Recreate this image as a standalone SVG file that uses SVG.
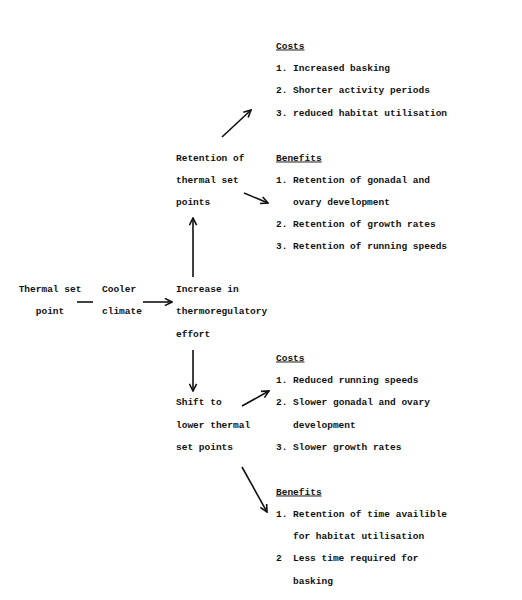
<svg xmlns="http://www.w3.org/2000/svg" width="522" height="600" viewBox="0 0 522 600">
<defs>
<style>
text{font-family:"Liberation Mono","DejaVu Sans Mono",monospace;font-size:9.5px;font-weight:bold;fill:#111}
.c{text-anchor:middle}
.u{text-decoration:underline}
.ln{stroke:#111;stroke-width:1.6;fill:none}
</style>
<marker id="ah" viewBox="0 0 10 10" refX="9" refY="5" markerWidth="9" markerHeight="9" markerUnits="userSpaceOnUse" orient="auto">
<polyline points="1,1 9,5 1,9" fill="none" stroke="#111" stroke-width="1.8"/>
</marker>
</defs>
<rect width="522" height="600" fill="#fff"/>
<g id="connectors">
<line class="ln" x1="77" y1="302" x2="93" y2="302"/>
<line class="ln" x1="143" y1="302" x2="172" y2="302" marker-end="url(#ah)"/>
<line class="ln" x1="193" y1="277" x2="193" y2="218" marker-end="url(#ah)"/>
<line class="ln" x1="222" y1="137" x2="251" y2="110" marker-end="url(#ah)"/>
<line class="ln" x1="244" y1="193" x2="268" y2="203" marker-end="url(#ah)"/>
<line class="ln" x1="193" y1="350" x2="193" y2="391" marker-end="url(#ah)"/>
<line class="ln" x1="242" y1="406" x2="269" y2="391" marker-end="url(#ah)"/>
<line class="ln" x1="242" y1="467" x2="267" y2="512" marker-end="url(#ah)"/>
</g>
<g id="node-thermal-set-point">
<text class="c" x="50" y="292">Thermal set</text>
<text class="c" x="50" y="314">point</text>
</g>
<g id="node-cooler-climate">
<text x="102" y="292">Cooler</text>
<text x="102" y="314">climate</text>
</g>
<g id="node-increase">
<text x="176" y="292">Increase in</text>
<text x="176" y="314">thermoregulatory</text>
<text x="176" y="337">effort</text>
</g>
<g id="node-retention">
<text x="176" y="160.5">Retention of</text>
<text x="176" y="182.5">thermal set</text>
<text x="176" y="205">points</text>
</g>
<g id="node-shift">
<text x="176" y="405">Shift to</text>
<text x="176" y="427.5">lower thermal</text>
<text x="176" y="449.5">set points</text>
</g>
<g id="node-costs-1">
<text class="u" x="276" y="48.5">Costs</text>
<text x="276" y="70.5">1. Increased basking</text>
<text x="276" y="93">2. Shorter activity periods</text>
<text x="276" y="115.5">3. reduced habitat utilisation</text>
</g>
<g id="node-benefits-1">
<text class="u" x="276" y="160.5">Benefits</text>
<text x="276" y="182.5">1. Retention of gonadal and</text>
<text x="293" y="205">ovary development</text>
<text x="276" y="227">2. Retention of growth rates</text>
<text x="276" y="249">3. Retention of running speeds</text>
</g>
<g id="node-costs-2">
<text class="u" x="276" y="360.5">Costs</text>
<text x="276" y="382.5">1. Reduced running speeds</text>
<text x="276" y="405">2. Slower gonadal and ovary</text>
<text x="293" y="427.5">development</text>
<text x="276" y="449.5">3. Slower growth rates</text>
</g>
<g id="node-benefits-2">
<text class="u" x="276" y="494.5">Benefits</text>
<text x="276" y="516.5">1. Retention of time availible</text>
<text x="293" y="538.5">for habitat utilisation</text>
<text x="276" y="561">2<tspan x="293">Less time required for</tspan></text>
<text x="293" y="584">basking</text>
</g>
</svg>
